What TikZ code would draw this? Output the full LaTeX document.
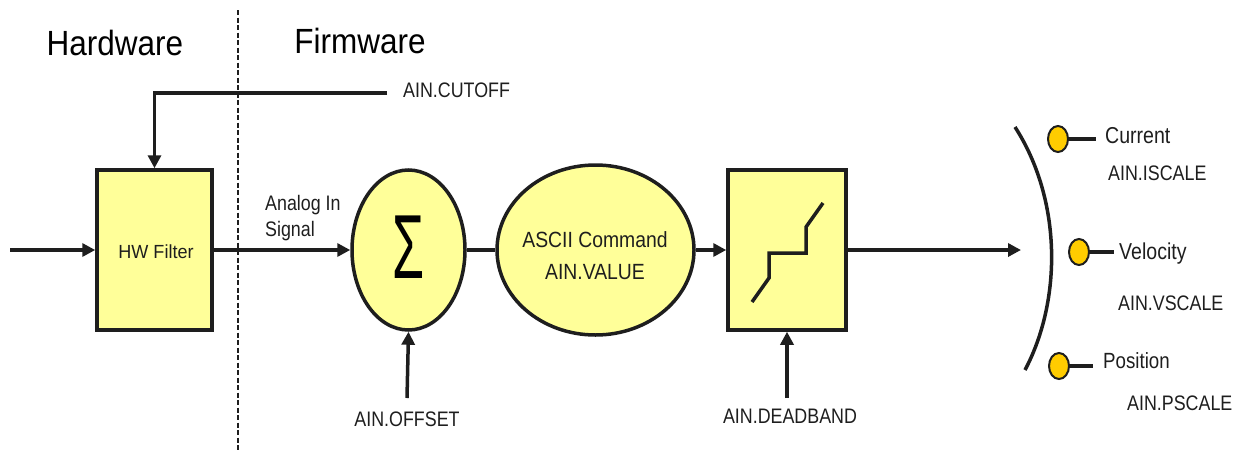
\documentclass[tikz,border=0pt]{standalone}
\usepackage{fontspec}
\setmainfont{Liberation Sans}
\usetikzlibrary{arrows.meta,shapes.geometric}
\definecolor{boxfill}{HTML}{FFFF99}
\definecolor{dotfill}{HTML}{FFCC00}
\definecolor{ink}{HTML}{1E1E1E}
\newcommand{\cnd}[1]{\scalebox{0.85}[1]{#1}}
\tikzset{
  wire/.style={draw=ink, line width=3.5pt},
  arr/.style={wire, -{Triangle[length=13pt,width=13pt]}},
  blockbox/.style={rectangle, draw=ink, line width=3.5pt, fill=boxfill, inner sep=0pt},
  blockell/.style={ellipse, draw=ink, line width=3.5pt, fill=boxfill, inner sep=0pt},
  lbl/.style={text=ink, inner sep=0pt, font=\fontsize{21}{24}\selectfont},
  head/.style={text=black, inner sep=0pt, font=\fontsize{35}{38}\selectfont},
  dot/.style={ellipse, draw=ink, line width=2pt, fill=dotfill, minimum width=20pt, minimum height=26pt, inner sep=0pt},
}
\begin{document}
\begin{tikzpicture}[x=1pt,y=-1pt]
\useasboundingbox (0,0) rectangle (1236,450);
% headings and divider
\node[head] (hwt) at (115,43) {\scalebox{0.9}[1]{Hardware}};
\node[head] (fwt) at (360,41) {\scalebox{0.9}[1]{Firmware}};
\coordinate (dtop) at (238,10);
\coordinate (dbot) at (238,450);
\draw[ink, line width=2.2pt, dash pattern=on 5pt off 2.5pt] (dtop) -- (dbot);
% blocks
\node[blockbox, minimum width=115pt, minimum height=160pt] (hw) at (154.5,250) {};
\node[lbl, font=\fontsize{19}{20}\selectfont] (hwl) at (156,252) {\scalebox{0.95}[1]{HW Filter}};
\node[blockell, minimum width=113pt, minimum height=160pt] (sig) at (408.5,250) {};
\node[text=black, inner sep=0pt, font=\fontsize{91}{91}\selectfont] (sigma) at (409,247) {\scalebox{0.57}[1]{Σ}};
\node[blockell, minimum width=197pt, minimum height=170pt] (asc) at (595.5,250) {};
\node[lbl, font=\fontsize{22}{24}\selectfont] (asc1) at (595,240) {\scalebox{0.88}[1]{ASCII Command}};
\node[lbl, font=\fontsize{22}{24}\selectfont] (asc2) at (595,272) {\scalebox{0.88}[1]{AIN.VALUE}};
\node[blockbox, minimum width=118pt, minimum height=160pt] (db) at (787,250) {};
\draw[ink, line width=3.5pt] ([shift={(-35pt,-52pt)}]db.center) -- ([shift={(-18pt,-28pt)}]db.center) -- ([shift={(-18pt,-3pt)}]db.center) -- ([shift={(19pt,-3pt)}]db.center) -- ([shift={(19pt,23pt)}]db.center) -- ([shift={(36pt,47pt)}]db.center);
% main signal path
\coordinate (in) at (10,250);
\coordinate (out) at (1021,250);
\draw[arr] (in) -- (hw.west);
\draw[arr] (hw.east) -- (sig.west);
\draw[wire] (sig.east) -- (asc.west);
\draw[arr] (asc.east) -- (db.west);
\draw[arr] (db.east) -- (out);
\node[lbl, anchor=base west] (ains1) at (265,210) {\cnd{Analog In}};
\node[lbl, anchor=base west] (ains2) at (265,236) {\cnd{Signal}};
% parameters
\node[lbl, anchor=west] (cutl) at (403,90) {\cnd{AIN.CUTOFF}};
\coordinate (cutend) at (387,93);
\draw[arr] (cutend) -| (hw.north);
\node[lbl] (offl) at (407,419) {\cnd{AIN.OFFSET}};
\coordinate (offs) at (407,398);
\draw[arr] (offs) -- (sig.south);
\node[lbl] (dbl) at (790,416) {\cnd{AIN.DEADBAND}};
\coordinate (dbs) at (787,398);
\draw[arr] (dbs) -- (db.south);
% bracket
\coordinate (bt) at (1015,127);
\coordinate (bb) at (1025,370);
\draw[ink, line width=3.5pt] (bt) .. controls (1062,200) and (1062,300) .. (bb);
% outputs
\node[dot] (d1) at (1058,139) {};
\coordinate (e1) at (1096,139);
\draw[wire, line width=4pt] (d1.east) -- (e1);
\node[lbl, anchor=west, font=\fontsize{23}{24}\selectfont] (t1) at (1105,136) {\cnd{Current}};
\node[lbl, anchor=west] (s1) at (1108,173) {\cnd{AIN.ISCALE}};
\node[dot] (d2) at (1079,252) {};
\coordinate (e2) at (1114,252);
\draw[wire, line width=4pt] (d2.east) -- (e2);
\node[lbl, anchor=west, font=\fontsize{23}{24}\selectfont] (t2) at (1119,254) {\cnd{Velocity}};
\node[lbl, anchor=west] (s2) at (1118,303) {\cnd{AIN.VSCALE}};
\node[dot] (d3) at (1059,366) {};
\coordinate (e3) at (1093,366);
\draw[wire, line width=4pt] (d3.east) -- (e3);
\node[lbl, anchor=west, font=\fontsize{22}{24}\selectfont] (t3) at (1103,361) {\cnd{Position}};
\node[lbl, anchor=west] (s3) at (1127,403) {\cnd{AIN.PSCALE}};
\end{tikzpicture}
\end{document}
